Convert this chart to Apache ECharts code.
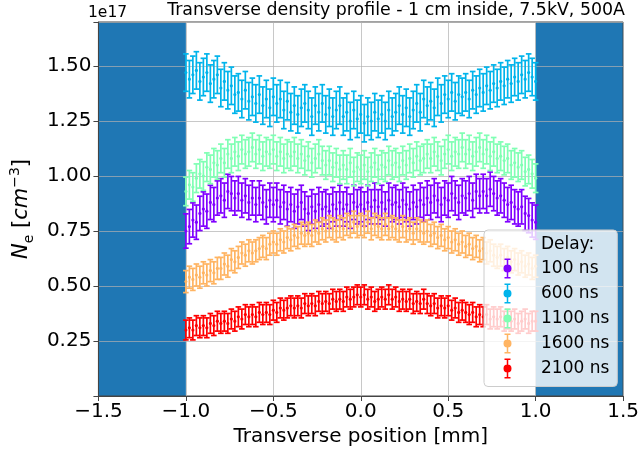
<!DOCTYPE html>
<html>
<head>
<meta charset="utf-8">
<script src="https://cdn.jsdelivr.net/npm/echarts@6/dist/echarts.min.js"></script>
<style>
  html, body { margin: 0; padding: 0; background: #fff; }
  #chart { width: 642px; height: 452px; }
</style>
</head>
<body>
<div id="chart"></div>
<script>
// sample grid along the transverse axis [mm]
var xStart = -1.0
var xStep = 0.02

var delays = ['100 ns', '600 ns', '1100 ns', '1600 ns', '2100 ns']
var colors = ['#8000ff', '#00b4eb', '#80ffb4', '#ffb462', '#ff0000']
// half length of the error bars, per delay [1e17 cm^-3]
var errors = [0.078, 0.085, 0.065, 0.05, 0.045]

// shaded regions outside the channel [mm]
var bandEdges = [[-1.5, -1.0], [1.0, 1.5]]

var xTicks = [-1.5, -1.0, -0.5, 0.0, 0.5, 1.0, 1.5]
var yTicks = [0.25, 0.50, 0.75, 1.00, 1.25, 1.50]

// Ne in units of 1e17 cm^-3
var ne100 = [
  0.75, 0.77, 0.80, 0.79, 0.83, 0.85, 0.84, 0.88, 0.87, 0.90,
  0.91, 0.89, 0.93, 0.92, 0.90, 0.92, 0.89, 0.91, 0.88, 0.90,
  0.87, 0.90, 0.88, 0.86, 0.89, 0.87, 0.89, 0.86, 0.88, 0.85,
  0.87, 0.84, 0.86, 0.88, 0.85, 0.83, 0.86, 0.84, 0.87, 0.85,
  0.86, 0.84, 0.87, 0.85, 0.88, 0.85, 0.87, 0.84, 0.88, 0.86,
  0.87, 0.85, 0.88, 0.86, 0.89, 0.86, 0.88, 0.85, 0.89, 0.87,
  0.88, 0.86, 0.89, 0.87, 0.85, 0.88, 0.86, 0.89, 0.87, 0.90,
  0.88, 0.91, 0.89, 0.87, 0.90, 0.89, 0.92, 0.90, 0.88, 0.91,
  0.90, 0.92, 0.89, 0.93, 0.91, 0.93, 0.91, 0.94, 0.92, 0.90,
  0.91, 0.89, 0.87, 0.88, 0.86, 0.85, 0.86, 0.83, 0.82, 0.80,
  0.79
]
var ne600 = [
  1.47, 1.44, 1.46, 1.48, 1.43, 1.45, 1.47, 1.42, 1.44, 1.46,
  1.40, 1.43, 1.39, 1.41, 1.37, 1.38, 1.35, 1.39, 1.34, 1.36,
  1.33, 1.37, 1.32, 1.35, 1.31, 1.36, 1.33, 1.35, 1.30, 1.34,
  1.29, 1.32, 1.28, 1.31, 1.33, 1.30, 1.27, 1.32, 1.29, 1.33,
  1.28, 1.31, 1.27, 1.30, 1.32, 1.27, 1.29, 1.25, 1.30, 1.26,
  1.28, 1.24, 1.27, 1.25, 1.29, 1.26, 1.28, 1.25, 1.30, 1.27,
  1.29, 1.32, 1.28, 1.31, 1.27, 1.30, 1.33, 1.29, 1.35, 1.32,
  1.34, 1.31, 1.36, 1.33, 1.37, 1.35, 1.38, 1.34, 1.37, 1.36,
  1.38, 1.35, 1.39, 1.37, 1.40, 1.38, 1.41, 1.39, 1.42, 1.40,
  1.43, 1.41, 1.44, 1.42, 1.45, 1.43, 1.46, 1.44, 1.47, 1.45,
  1.43
]
var ne1100 = [
  0.93, 0.96, 0.95, 0.99, 1.01, 1.00, 1.04, 1.03, 1.06, 1.05,
  1.08, 1.06, 1.10, 1.08, 1.11, 1.09, 1.12, 1.10, 1.11, 1.13,
  1.10, 1.12, 1.09, 1.11, 1.10, 1.12, 1.09, 1.11, 1.08, 1.10,
  1.09, 1.11, 1.08, 1.10, 1.07, 1.09, 1.06, 1.08, 1.10, 1.07,
  1.05, 1.07, 1.04, 1.06, 1.03, 1.05, 1.03, 1.06, 1.02, 1.04,
  1.03, 1.05, 1.02, 1.04, 1.06, 1.03, 1.05, 1.04, 1.07, 1.05,
  1.06, 1.04, 1.07, 1.05, 1.08, 1.06, 1.09, 1.07, 1.08, 1.10,
  1.08, 1.11, 1.09, 1.07, 1.10, 1.12, 1.09, 1.11, 1.10, 1.13,
  1.10, 1.12, 1.09, 1.11, 1.13, 1.10, 1.12, 1.09, 1.11, 1.08,
  1.09, 1.07, 1.08, 1.05, 1.06, 1.04, 1.05, 1.02, 1.03, 1.01,
  0.99
]
var ne1600 = [
  0.52, 0.54, 0.53, 0.55, 0.54, 0.56, 0.55, 0.57, 0.56, 0.58,
  0.58, 0.60, 0.59, 0.62, 0.61, 0.63, 0.65, 0.64, 0.66, 0.65,
  0.66, 0.67, 0.68, 0.67, 0.69, 0.70, 0.69, 0.71, 0.70, 0.72,
  0.71, 0.73, 0.72, 0.74, 0.73, 0.74, 0.73, 0.75, 0.74, 0.76,
  0.75, 0.77, 0.76, 0.75, 0.77, 0.76, 0.78, 0.77, 0.79, 0.77,
  0.78, 0.77, 0.79, 0.76, 0.78, 0.77, 0.76, 0.78, 0.76, 0.77,
  0.76, 0.75, 0.77, 0.75, 0.76, 0.74, 0.76, 0.75, 0.74, 0.75,
  0.73, 0.74, 0.72, 0.73, 0.71, 0.72, 0.70, 0.71, 0.69, 0.70,
  0.68, 0.69, 0.67, 0.68, 0.66, 0.67, 0.65, 0.66, 0.64, 0.63,
  0.64, 0.62, 0.63, 0.61, 0.62, 0.60, 0.61, 0.59, 0.60, 0.58,
  0.59
]
var ne2100 = [
  0.30, 0.31, 0.30, 0.32, 0.31, 0.32, 0.31, 0.33, 0.32, 0.34,
  0.33, 0.34, 0.33, 0.35, 0.34, 0.36, 0.35, 0.37, 0.36, 0.37,
  0.36, 0.38, 0.37, 0.38, 0.37, 0.39, 0.38, 0.40, 0.39, 0.40,
  0.41, 0.40, 0.41, 0.40, 0.42, 0.41, 0.42, 0.41, 0.43, 0.42,
  0.43, 0.42, 0.44, 0.43, 0.44, 0.43, 0.45, 0.44, 0.45, 0.46,
  0.45, 0.46, 0.44, 0.45, 0.43, 0.44, 0.45, 0.44, 0.46, 0.44,
  0.45, 0.43, 0.44, 0.43, 0.44, 0.42, 0.43, 0.42, 0.44, 0.42,
  0.41, 0.42, 0.40, 0.41, 0.40, 0.41, 0.39, 0.40, 0.38, 0.39,
  0.38, 0.37, 0.38, 0.36, 0.37, 0.36, 0.37, 0.35, 0.36, 0.35,
  0.36, 0.34, 0.35, 0.34, 0.35, 0.33, 0.34, 0.35, 0.33, 0.34,
  0.34
]

var profiles = [ne100, ne600, ne1100, ne1600, ne2100]

var font = 'DejaVu Sans'
var errIcon = 'path://M2,0h6v1.5h-6zM2,18.5h6v1.5h-6zM4.25,0h1.5v20h-1.5zM1,10a4,4 0 1,1 8,0a4,4 0 1,1 -8,0zM32.8,9.9h0.2v0.2h-0.2z'

function renderBand(params, api) {
  var a = api.coord([api.value(0), 0])
  var b = api.coord([api.value(1), 0])
  var cs = params.coordSys
  return {
    type: 'rect',
    shape: { x: a[0], y: cs.y, width: b[0] - a[0], height: cs.height },
    style: { fill: '#1f77b4' }
  }
}

function renderErrorBar(params, api) {
  var x = api.value(0)
  var y = api.value(1)
  var e = api.value(2)
  var hi = api.coord([x, y + e])
  var lo = api.coord([x, y - e])
  var mid = api.coord([x, y])
  var c = api.visual('color')
  var ln = { stroke: c, lineWidth: 1.7 }
  return {
    type: 'group',
    children: [
      { type: 'line', shape: { x1: hi[0], y1: hi[1], x2: lo[0], y2: lo[1] }, style: ln },
      { type: 'line', shape: { x1: hi[0] - 2.8, y1: hi[1], x2: hi[0] + 2.8, y2: hi[1] }, style: ln },
      { type: 'line', shape: { x1: lo[0] - 2.8, y1: lo[1], x2: lo[0] + 2.8, y2: lo[1] }, style: ln },
      { type: 'circle', shape: { cx: mid[0], cy: mid[1], r: 1.6 }, style: { fill: c } }
    ]
  }
}

var series = [{
  type: 'custom',
  name: 'bands',
  silent: true,
  zlevel: -1,
  renderItem: renderBand,
  encode: { x: [0, 1] },
  data: bandEdges
}, {
  // only carries the legend title
  type: 'custom',
  name: 'Delay:',
  renderItem: function () { return null },
  data: []
}]
for (var k = 0; k < delays.length; k++) {
  var pts = []
  for (var i = 0; i < profiles[k].length; i++) {
    pts.push([+(xStart + i * xStep).toFixed(2), profiles[k][i], errors[k]])
  }
  series.push({
    type: 'custom',
    name: delays[k],
    itemStyle: { color: colors[k] },
    renderItem: renderErrorBar,
    encode: { x: 0, y: 1 },
    data: pts
  })
}

var chart = echarts.init(document.getElementById('chart'))
chart.setOption({
  animation: false,
  textStyle: { fontFamily: font },
  title: [{
    text: 'Transverse density profile - 1 cm inside, 7.5kV, 500A',
    right: 17,
    top: 2,
    padding: 0,
    textStyle: { fontFamily: font, fontSize: 17.4, fontWeight: 'normal', color: '#000' }
  }, {
    text: '1e17',
    left: 88,
    top: 5,
    padding: 0,
    textStyle: { fontFamily: font, fontSize: 15.5, fontWeight: 'normal', color: '#000' }
  }],
  grid: {
    left: 87,
    right: 17,
    top: 22,
    bottom: 56,
    show: true,
    borderColor: '#444',
    borderWidth: 1
  },
  legend: {
    orient: 'vertical',
    left: 484,
    top: 230,
    padding: [5, 8, 8, 19],
    itemWidth: 33,
    itemHeight: 20,
    itemGap: 5,
    selectedMode: false,
    backgroundColor: 'rgba(255,255,255,0.8)',
    borderColor: '#cccccc',
    borderWidth: 1,
    borderRadius: 4,
    textStyle: { fontFamily: font, fontSize: 17, color: '#000' },
    data: [{ name: 'Delay:', icon: 'none' }].concat(delays.map(function (d) {
      return { name: d, icon: errIcon }
    }))
  },
  xAxis: {
    type: 'value',
    min: xTicks[0],
    max: xTicks[xTicks.length - 1],
    interval: 0.5,
    name: 'Transverse position [mm]',
    nameLocation: 'middle',
    nameGap: 30,
    nameTextStyle: { fontFamily: font, fontSize: 20, color: '#000' },
    axisLine: { show: true, onZero: false, lineStyle: { color: '#444' } },
    axisTick: { show: true, length: 5, lineStyle: { color: '#444' } },
    axisLabel: {
      fontFamily: font, fontSize: 20, color: '#000', margin: 6,
      formatter: function (v) { return v.toFixed(1).replace('-', '\u2212') }
    },
    splitLine: { show: true, lineStyle: { color: 'rgba(176,176,176,0.7)', width: 1 } }
  },
  yAxis: {
    type: 'value',
    min: 0,
    max: 1.70,
    interval: 0.25,
    name: '{i|N}{s|e}{n| [}{i|cm}{p|\u22123}{n|]}',
    nameLocation: 'middle',
    nameGap: 52,
    nameTextStyle: {
      fontFamily: font, fontSize: 20, color: '#000',
      rich: {
        i: { fontFamily: font, fontSize: 21, fontStyle: 'italic', lineHeight: 28 },
        n: { fontFamily: font, fontSize: 21, lineHeight: 28 },
        s: { fontFamily: font, fontSize: 14, lineHeight: 28, verticalAlign: 'bottom' },
        p: { fontFamily: font, fontSize: 14, lineHeight: 28, verticalAlign: 'top' }
      }
    },
    axisLine: { show: true, onZero: false, lineStyle: { color: '#444' } },
    axisTick: { show: true, length: 5, lineStyle: { color: '#444' } },
    axisLabel: {
      fontFamily: font, fontSize: 20, color: '#000', margin: 7,
      formatter: function (v) { return yTicks.indexOf(v) >= 0 ? v.toFixed(2) : '' }
    },
    splitLine: { show: true, lineStyle: { color: 'rgba(176,176,176,0.7)', width: 1 } }
  },
  series: series
})
</script>
</body>
</html>
